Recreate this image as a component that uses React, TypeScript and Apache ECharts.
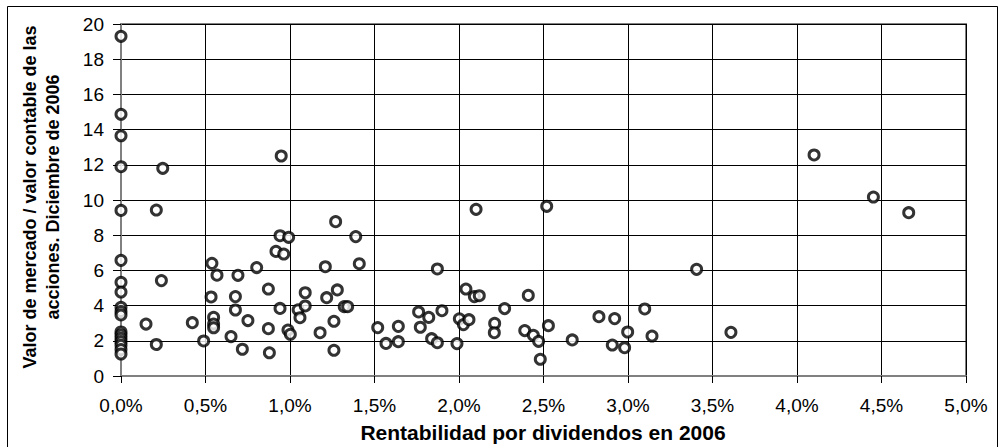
import React, { useEffect, useRef } from "react";
import * as echarts from "echarts";

const xTickLabels = ["0,0%", "0,5%", "1,0%", "1,5%", "2,0%", "2,5%", "3,0%", "3,5%", "4,0%", "4,5%", "5,0%"];
const yTickLabels = ["0", "2", "4", "6", "8", "10", "12", "14", "16", "18", "20"];

// dividend yield (%) values
const xValues = [
  0, 0, 0, 0, 0, 0, 0, 0, 0, 0, 0, 0, 0, 0, 0, 0, 0, 0,
  0.247, 0.948, 0.209, 0.239, 0.148, 0.209, 0.422, 0.489, 0.538, 0.568,
  0.533, 0.548, 0.548, 0.548, 0.651, 0.677, 0.677, 0.692, 0.718, 0.751,
  0.803, 0.872, 0.872, 0.878, 0.917, 0.941, 0.963, 0.941, 0.992, 0.988,
  1.002, 1.048, 1.059, 1.09, 1.09, 1.178, 1.209, 1.217, 1.27, 1.28,
  1.26, 1.26, 1.321, 1.341, 1.389, 1.41, 1.519, 1.568, 1.641, 1.641,
  1.761, 1.771, 1.821, 1.838, 1.872, 1.872, 1.899, 1.988, 2.002, 2.026,
  2.059, 2.041, 2.091, 2.12, 2.101, 2.211, 2.209, 2.27, 2.389, 2.41,
  2.44, 2.471, 2.481, 2.529, 2.519, 2.67, 2.828, 2.921, 2.907, 2.98,
  2.998, 3.099, 3.142, 3.406, 3.609, 4.101, 4.452, 4.661,
];

// market-to-book values
const yValues = [
  19.3, 14.87, 13.65, 11.89, 9.41, 6.57, 5.32, 4.77, 3.9, 3.66, 3.47, 2.5, 2.33, 2.14, 1.95, 1.75, 1.5, 1.25,
  11.8, 12.5, 9.43, 5.42, 2.95, 1.79, 3.03, 1.99, 6.4, 5.73,
  4.49, 3.33, 2.95, 2.74, 2.24, 4.51, 3.75, 5.72, 1.52, 3.15,
  6.16, 4.94, 2.69, 1.32, 7.08, 7.97, 6.93, 3.84, 7.88, 2.61,
  2.37, 3.76, 3.31, 4.73, 3.98, 2.46, 6.21, 4.45, 8.77, 4.89,
  3.11, 1.46, 3.94, 3.94, 7.92, 6.38, 2.75, 1.85, 2.82, 1.95,
  3.64, 2.77, 3.33, 2.12, 1.89, 6.08, 3.71, 1.84, 3.25, 2.92,
  3.2, 4.94, 4.51, 4.56, 9.47, 2.99, 2.46, 3.83, 2.58, 4.58,
  2.31, 1.97, 0.95, 2.86, 9.64, 2.05, 3.37, 3.26, 1.76, 1.61,
  2.5, 3.81, 2.27, 6.06, 2.48, 12.56, 10.17, 9.28,
];

const xTitle = "Rentabilidad por dividendos en 2006";
const yTitleLine1 = "Valor de mercado / valor contable de las";
const yTitleLine2 = "acciones. Diciembre de 2006";

const FONT = "'Liberation Sans', Arial, sans-serif";
const NARROW = "'Liberation Sans Narrow', 'Arial Narrow', 'Liberation Sans', Arial, sans-serif";

export default function App() {
  const ref = useRef<HTMLDivElement>(null);
  useEffect(() => {
    if (!ref.current) return;
    const chart = echarts.init(ref.current, null, { renderer: "svg" });
    const data = xValues.map((x, i) => [x, yValues[i]]);
    chart.setOption({
      animation: false,
      backgroundColor: "#ffffff",
      grid: {
        left: 114,
        right: 32,
        top: 18,
        bottom: 71,
        show: true,
        borderColor: "#808080",
        borderWidth: 2,
        backgroundColor: "transparent",
      },
      xAxis: {
        type: "value",
        min: 0,
        max: 5,
        interval: 0.5,
        axisLine: { show: true, onZero: false, lineStyle: { color: "#808080", width: 2 } },
        axisTick: { show: true, length: 7, lineStyle: { color: "#000", width: 1 } },
        splitLine: { show: true, lineStyle: { color: "#000", width: 1 } },
        axisLabel: {
          margin: 20,
          fontSize: 19,
          color: "#000",
          fontFamily: FONT,
          formatter: (v: number) => xTickLabels[Math.round(v / 0.5)] ?? "",
        },
      },
      yAxis: {
        type: "value",
        min: 0,
        max: 20,
        interval: 2,
        axisLine: { show: true, onZero: false, lineStyle: { color: "#808080", width: 2 } },
        axisTick: { show: true, length: 8, lineStyle: { color: "#000", width: 1 } },
        splitLine: { show: true, lineStyle: { color: "#000", width: 1 } },
        axisLabel: {
          margin: 17,
          fontSize: 19,
          color: "#000",
          fontFamily: FONT,
          formatter: (v: number) => yTickLabels[Math.round(v / 2)] ?? "",
        },
      },
      graphic: [
        {
          type: "rect",
          shape: { x: 0.5, y: 0.5, width: 990, height: 460 },
          style: { fill: "none", stroke: "#000", lineWidth: 1 },
          silent: true,
        },
        {
          type: "text",
          x: 536,
          y: 426,
          style: {
            text: xTitle,
            font: `bold 21px ${NARROW}`,
            fill: "#000",
            textAlign: "center",
            textVerticalAlign: "middle",
          },
        },
        {
          type: "text",
          x: 23,
          y: 191,
          rotation: Math.PI / 2,
          style: {
            text: yTitleLine1,
            font: `bold 18px ${NARROW}`,
            fill: "#000",
            textAlign: "center",
            textVerticalAlign: "middle",
          },
        },
        {
          type: "text",
          x: 46,
          y: 191,
          rotation: Math.PI / 2,
          style: {
            text: yTitleLine2,
            font: `bold 18px ${NARROW}`,
            fill: "#000",
            textAlign: "center",
            textVerticalAlign: "middle",
          },
        },
      ],
      series: [
        {
          type: "scatter",
          data,
          symbol: "circle",
          symbolSize: 10,
          itemStyle: { color: "#ffffff", borderColor: "#000", borderWidth: 3 },
          emphasis: { disabled: true },
        },
      ],
    });
    return () => chart.dispose();
  }, []);
  return (
    <div
      ref={ref}
      style={{ position: "fixed", left: 7, top: 6, width: 991, height: 441 }}
    />
  );
}
